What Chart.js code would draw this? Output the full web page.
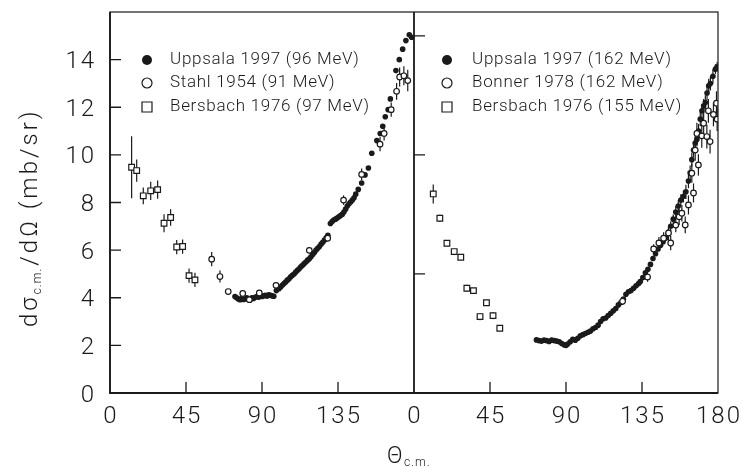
<!DOCTYPE html>
<html>
<head>
<meta charset="utf-8">
<script src="https://cdn.jsdelivr.net/npm/chart.js@4.4.1/dist/chart.umd.min.js"></script>
<style>
  html, body { margin: 0; padding: 0; background: #fff; }
</style>
</head>
<body>
<canvas id="c" width="745" height="468"></canvas>
<script>
// tick labels for the two joined panels (0..180 | 0..180)
const xTickValues = [0, 45, 90, 135, 180, 225, 270, 315, 360];
const xTickLabels = ['0', '45', '90', '135', '0', '45', '90', '135', '180'];
const yTickValues = [0, 2, 4, 6, 8, 10, 12, 14];
const rightPanelTicks = [5, 10, 15];

const legendLeft = ['Uppsala 1997 (96 MeV)', 'Stahl 1954 (91 MeV)', 'Bersbach 1976 (97 MeV)'];
const legendRight = ['Uppsala 1997 (162 MeV)', 'Bonner 1978 (162 MeV)', 'Bersbach 1976 (155 MeV)'];

// [angle, dsigma/dOmega, error]
const uppsala96 = [
  [74,4.05],[75,4.0],[76,3.95],[77,3.92],[78,3.97],[79,3.93],[80,3.95],[81,4.0],[82,3.96],[83,3.92],
  [84,4.0],[85,3.97],[86,4.02],[87,4.05],[88,4.02],[89,4.08],[90,4.05],[91,4.08],[92,4.1],[93,4.07],
  [94,4.12],[95,4.1],[96,4.08],[97,4.06],[98.5,4.3],[100,4.38],[101,4.45],[102,4.52],[103,4.6],[104,4.66],
  [105,4.74],[106,4.8],[107,4.88],[108,4.94],[109,5.0],[110,5.08],[111,5.15],[112,5.22],[113,5.3],[114,5.36],
  [115,5.44],[116,5.5],[117,5.58],[118,5.64],[119,5.72],[120,5.82],[121,5.9],[122,6.0],[123,6.08],[124,6.15],
  [125,6.25],[126,6.33],[127,6.42],[128,6.52],[129,6.62],[130.5,7.12],[131.5,7.2],[132.5,7.26],[133.5,7.3],
  [134.5,7.35],[135.5,7.4],[136.5,7.45],[137.5,7.5],[138.5,7.6],[139.5,7.72],[140.5,7.85],[141.5,7.95],
  [142.5,8.02],[143.5,8.1],[144.5,8.2],[145.5,8.35],[147,8.55],[149,8.82],[151,9.16],[153,9.45],[155,10.07],
  [158,10.6],[160,10.9],[161.5,11.2],[163,11.6],[164.7,11.9],[166,12.35],[169.3,13.54],[171.3,14.0],
  [173.3,14.44],[175.2,14.8],[177.2,15.04],[178.6,14.94]
];
const stahl54 = [
  [60.2,5.62,0.3],[65.1,4.89,0.25],[70,4.26,0.1],[78.6,4.18,0.1],[82.5,3.92,0.1],[88.4,4.2,0.1],
  [98.3,4.52,0.1],[118,5.99,0.12],[128.9,6.5,0.15],[138.3,8.1,0.2],[149,9.18,0.25],[159.9,10.45,0.3],
  [162.3,10.9,0.3],[166.5,11.9,0.3],[169.7,12.67,0.35],[171.5,13.27,0.4],[174,13.32,0.4],[176.3,13.12,0.45]
];
const bersbach97 = [
  [12.8,9.48,1.3],[15.8,9.34,0.47],[19.7,8.28,0.35],[24.1,8.49,0.38],[28.2,8.54,0.38],[32,7.13,0.38],
  [35.9,7.37,0.35],[39.5,6.13,0.3],[43,6.15,0.3],[46.8,4.93,0.3],[50.3,4.75,0.3]
];
const uppsala162 = [
  [72.5,2.23],[74,2.2],[75.5,2.18],[77,2.22],[78.5,2.2],[80,2.16],[81.5,2.22],[83,2.2],[84.5,2.18],[86,2.15],
  [87.5,2.08],[89,2.02],[90,2.0],[91,2.06],[92.5,2.15],[94,2.25],[95.5,2.22],[97,2.3],[98.5,2.4],[100,2.45],
  [101.5,2.5],[103,2.55],[104.5,2.6],[106,2.7],[107.5,2.75],[109,2.85],[110.5,3.0],[112,3.12],[113.5,3.15],
  [115,3.25],[116.5,3.35],[118,3.45],[119.5,3.55],[121,3.7],[122.5,3.8],[124,3.95],[125.5,4.15],[127,4.25],
  [128.5,4.3],[130,4.4],[131.5,4.5],[133,4.6],[134,4.68],[135.5,4.85],[137,5.05],[138.5,5.2],[140,5.4],
  [141.5,5.65],[143,5.85],[144.5,6.05],[146,6.2],[147.5,6.35],[149,6.5],[150.5,6.7,0.2],[152,7.0,0.2],
  [153.5,7.3,0.2],[155,7.6,0.25],[156.5,7.85,0.25],[158,8.1,0.25],[159.5,8.25,0.25],[161,8.45,0.3],
  [162.5,8.9,0.3],[163.5,9.25,0.3],[164.5,9.8,0.3],[165.5,10.2,0.3],[166.5,10.5,0.3],[167.5,10.65,0.3],
  [168.5,11.0,0.3],[169.5,11.5,0.3],[170.5,11.85,0.3],[171.5,12.05,0.3],[172.5,12.2,0.3],[173.5,12.6,0.3],
  [174.5,12.9,0.3],[175.5,13.0,0.3],[177,13.3,0.3],[178.5,13.6,0.2],[179.5,13.7,0.2]
];
const bonner78 = [
  [123.5,3.85,0.15],[138.3,4.87,0.2],[141.9,6.05,0.2],[145,6.3,0.25],[147.8,6.5,0.25],[150.7,6.72,0.3],
  [152,6.3,0.3],[155,7.05,0.3],[157,7.4,0.35],[158.6,7.55,0.35],[160.6,7.06,0.35],[162.5,7.9,0.4],
  [164.5,9.23,0.4],[165.5,8.4,0.4],[166.5,10.2,0.45],[167.5,10.9,0.45],[168.4,9.58,0.45],[170.4,10.8,0.5],
  [171.5,11.33,0.5],[173.4,10.77,0.5],[174.3,11.85,0.5],[175.3,10.56,0.5],[177.3,11.7,0.5],[179.1,12.17,0.5],
  [179.5,11.5,0.5]
];
const bersbach155 = [
  [11.4,8.36,0.4],[15.3,7.34,0.15],[19.5,6.29,0.1],[23.8,5.94,0.1],[27.7,5.7,0.1],[31.3,4.4,0.15],
  [35.2,4.3,0.1],[39.1,3.21,0.15],[42.9,3.79,0.1],[46.8,3.25,0.15],[50.8,2.72,0.1]
];

const FONT = 'Roboto';
const INK = '#1a1a1a';
const RIGHT_OFFSET = 180; // right panel is drawn on the same x scale, shifted

function toPoints(list, offset) {
  return list.map(p => ({ x: p[0] + offset, y: p[1] }));
}
function toErrs(list) {
  return list.map(p => p[2] || 0);
}

function filled(list, offset) {
  return { data: toPoints(list, offset), errs: toErrs(list), pointStyle: 'circle', pointRadius: 2.8,
    backgroundColor: INK, borderColor: INK, borderWidth: 0, order: 3 };
}
function openCircle(list, offset) {
  return { data: toPoints(list, offset), errs: toErrs(list), pointStyle: 'circle', pointRadius: 2.8,
    backgroundColor: '#fff', borderColor: INK, borderWidth: 1.2, order: 1 };
}
function openSquare(list, offset) {
  return { data: toPoints(list, offset), errs: toErrs(list), pointStyle: 'rect', pointRadius: 4,
    backgroundColor: '#fff', borderColor: INK, borderWidth: 1.2, order: 2 };
}

const datasets = [
  filled(uppsala96, 0), openCircle(stahl54, 0), openSquare(bersbach97, 0),
  filled(uppsala162, RIGHT_OFFSET), openCircle(bonner78, RIGHT_OFFSET), openSquare(bersbach155, RIGHT_OFFSET)
];

function spacing(ctx, px) {
  if ('letterSpacing' in ctx) ctx.letterSpacing = px + 'px';
}

function drawMarker(ctx, kind, x, y) {
  ctx.beginPath();
  if (kind === 0) {
    ctx.arc(x, y, 5, 0, Math.PI * 2); ctx.fillStyle = INK; ctx.fill();
  } else if (kind === 1) {
    ctx.arc(x, y, 5, 0, Math.PI * 2); ctx.lineWidth = 1.2; ctx.stroke();
  } else {
    ctx.rect(x - 5, y - 5, 10, 10); ctx.lineWidth = 1.2; ctx.stroke();
  }
}

const framePlugin = {
  id: 'frame',
  beforeDatasetsDraw(chart) {
    const { ctx, scales: { x, y } } = chart;
    ctx.save();
    ctx.strokeStyle = INK;
    ctx.lineWidth = 1.2;
    chart.data.datasets.forEach(ds => {
      ds.data.forEach((p, i) => {
        const e = ds.errs[i];
        if (!e) return;
        const px = x.getPixelForValue(p.x);
        ctx.beginPath();
        ctx.moveTo(px, y.getPixelForValue(p.y - e));
        ctx.lineTo(px, y.getPixelForValue(p.y + e));
        ctx.stroke();
      });
    });
    ctx.restore();
  },
  afterDraw(chart) {
    const { ctx, chartArea: a, scales: { x, y } } = chart;
    ctx.save();
    ctx.strokeStyle = INK;
    ctx.fillStyle = INK;

    // box
    ctx.lineWidth = 1.2;
    ctx.strokeRect(a.left, a.top, a.right - a.left, a.bottom - a.top);
    ctx.lineWidth = 1.8;
    ctx.beginPath();
    ctx.moveTo(a.left, a.top); ctx.lineTo(a.left, a.bottom); ctx.lineTo(a.right, a.bottom);
    const mid = x.getPixelForValue(RIGHT_OFFSET);
    ctx.moveTo(mid, a.top); ctx.lineTo(mid, a.bottom);
    ctx.stroke();

    // inward tick marks
    ctx.lineWidth = 1.3;
    ctx.beginPath();
    [45, 90, 135, 225, 270, 315].forEach(v => {
      const px = x.getPixelForValue(v);
      ctx.moveTo(px, a.bottom); ctx.lineTo(px, a.bottom - 11);
    });
    yTickValues.slice(1).forEach(v => {
      const py = y.getPixelForValue(v);
      ctx.moveTo(a.left, py); ctx.lineTo(a.left + 11, py);
    });
    rightPanelTicks.forEach(v => {
      const py = y.getPixelForValue(v);
      ctx.moveTo(mid, py); ctx.lineTo(mid + 11, py);
    });
    ctx.stroke();

    // tick labels
    ctx.font = '300 24px ' + FONT;
    spacing(ctx, 2);
    ctx.textBaseline = 'alphabetic';
    ctx.textAlign = 'center';
    xTickValues.forEach((v, i) => {
      ctx.fillText(xTickLabels[i], x.getPixelForValue(v) + 1, a.bottom + 30);
    });
    ctx.textAlign = 'right';
    yTickValues.forEach(v => {
      ctx.fillText(String(v), a.left - 14, y.getPixelForValue(v) + 8.5);
    });

    // legends
    ctx.font = '300 17px ' + FONT;
    ctx.textBaseline = 'middle';
    ctx.textAlign = 'left';
    spacing(ctx, 0.7);
    const rows = [60, 83, 107];
    legendLeft.forEach((t, i) => {
      drawMarker(ctx, i, 147, rows[i]);
      ctx.fillStyle = INK;
      ctx.fillText(t, 170, rows[i]);
    });
    legendRight.forEach((t, i) => {
      drawMarker(ctx, i, 447, rows[i]);
      ctx.fillStyle = INK;
      ctx.fillText(t, 472, rows[i]);
    });

    // x title: Θ c.m.
    ctx.textBaseline = 'alphabetic';
    spacing(ctx, 0);
    ctx.font = '300 23px ' + FONT;
    ctx.fillText('Θ', 387, 463);
    ctx.font = '300 12px ' + FONT;
    spacing(ctx, 1);
    ctx.fillText('c.m.', 404, 466);

    // y title: dσ c.m. / dΩ (mb/sr)
    ctx.translate(37, 327);
    ctx.rotate(-Math.PI / 2);
    spacing(ctx, 3);
    ctx.font = '300 24px ' + FONT;
    let u = 0;
    ctx.fillText('dσ', u, 0); u += ctx.measureText('dσ').width;
    ctx.font = '300 12px ' + FONT;
    spacing(ctx, 1);
    ctx.fillText('c.m.', u, 4); u += ctx.measureText('c.m.').width + 2;
    ctx.font = '300 24px ' + FONT;
    spacing(ctx, 3);
    ctx.fillText('/dΩ (mb/sr)', u, 0);
    ctx.restore();
  }
};

new Chart(document.getElementById('c'), {
  type: 'scatter',
  data: { datasets },
  options: {
    responsive: false,
    animation: false,
    layout: { padding: { top: 12, right: 27, left: 0, bottom: 0 } },
    plugins: { legend: { display: false }, tooltip: { enabled: false } },
    scales: {
      x: {
        type: 'linear', min: 0, max: 360,
        grid: { display: false, drawTicks: false },
        border: { display: false },
        ticks: { display: false, stepSize: 45 },
        afterFit: s => { s.height = 75; }
      },
      y: {
        type: 'linear', min: 0, max: 16,
        grid: { display: false, drawTicks: false },
        border: { display: false },
        ticks: { display: false, stepSize: 2 },
        afterFit: s => { s.width = 110; }
      }
    }
  },
  plugins: [framePlugin]
});
</script>
</body>
</html>
